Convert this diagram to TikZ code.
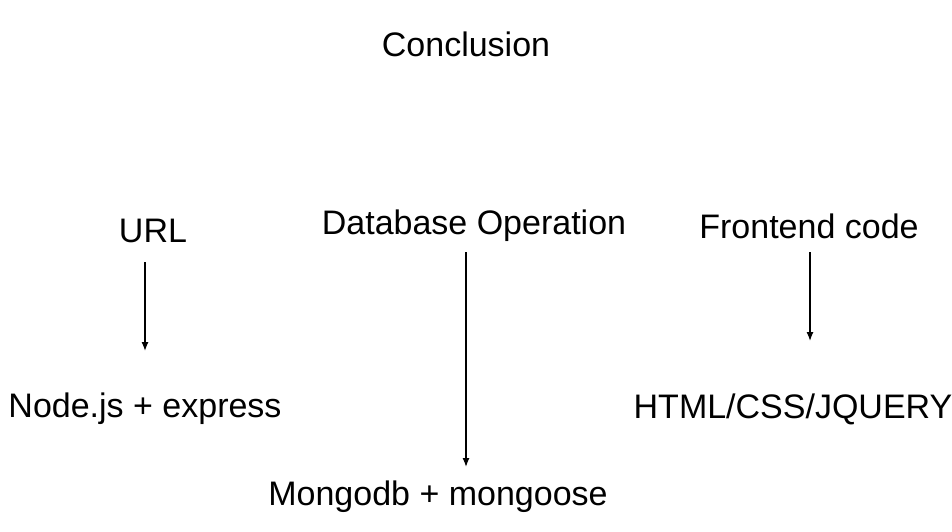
\documentclass[tikz,border=0pt]{standalone}
\usepackage{fontspec}
\setmainfont{Liberation Sans}
\usetikzlibrary{arrows.meta}
\begin{document}
\begin{tikzpicture}[x=1pt,y=-1pt,
  lbl/.style={inner sep=0pt,font=\fontsize{34}{40}\selectfont,anchor=center},
  arr/.style={-{Latex[length=9pt,width=7pt]},line width=1.3pt}]
\useasboundingbox (0,0) rectangle (952,531);
\node[lbl] (concl) at (466,44) {Conclusion};
\node[lbl] (url) at (153,231) {URL};
\node[lbl] (db) at (474,226) {Database Operation};
\node[lbl] (fe) at (809,226) {Frontend code};
\node[lbl] (node) at (145,409) {Node.js + express};
\node[lbl] (html) at (793,409) {HTML/CSS/JQUERY};
\node[lbl] (mongo) at (438,497) {Mongodb + mongoose};
\coordinate (a1) at (145,262); \coordinate (b1) at (145,351);
\coordinate (a2) at (466,252); \coordinate (b2) at (466,467);
\coordinate (a3) at (810,252); \coordinate (b3) at (810,341);
\draw[arr] (a1) -- (b1);
\draw[arr] (a2) -- (b2);
\draw[arr] (a3) -- (b3);
\end{tikzpicture}
\end{document}
